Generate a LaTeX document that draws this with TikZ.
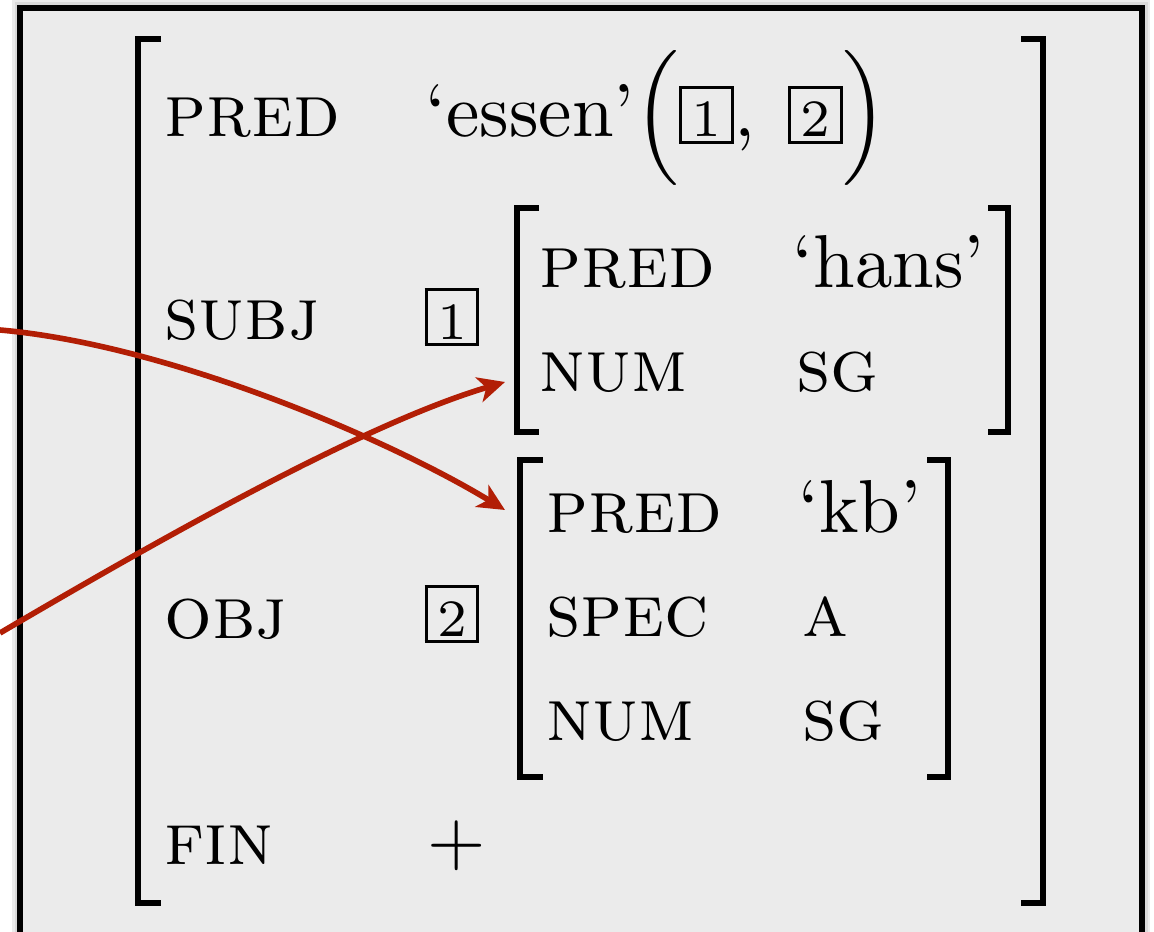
\documentclass[tikz,border=0pt]{standalone}
\usepackage{tikz}
\usetikzlibrary{arrows.meta}
\definecolor{linkred}{RGB}{178,30,5}
\definecolor{boxgrey}{RGB}{235,235,235}
\newcommand{\tagnum}[1]{{\setlength{\fboxsep}{0pt}\setlength{\fboxrule}{.4pt}%
 \fbox{\vrule width0pt height6.4pt depth.5pt\makebox[6.5pt]{\scriptsize #1}}}}

\begin{document}
\begin{tikzpicture}[x=.13333pt,y=-.13333pt,>={Stealth[length=3.6pt,width=3.4pt,inset=1pt]},
 feat/.style={anchor=base west,inner sep=0pt,font=\scshape},
 val/.style={anchor=base west,inner sep=0pt},
 tagn/.style={inner sep=0pt},
 brk/.style={line width=.75pt},
 link/.style={->,line width=.75pt,linkred}]
 \useasboundingbox (0,0) rectangle (1154,932);
 % soft shadow and grey box
 \foreach \w in {16,11,6}
  \draw[black,opacity=.08,line width=\w*.13333pt] (20,8) rectangle (1142,960);
 \draw[line width=.8pt,fill=boxgrey] (20,8) rectangle (1142,960);
 % outer matrix
 \node[feat] (pred) at (163,137) {pred};
 \node[val] (essen) at (424,137) {‘essen’$\Big($\tagnum{1},\hspace{4.4pt}\tagnum{2}$\Big)$};
 \node[feat] (subj) at (163,340) {subj};
 \node[tagn] (t1) at (452,317) {\tagnum{1}};
 \node[feat] (obj) at (163,638) {obj};
 \node[tagn] (t2) at (452,614) {\tagnum{2}};
 \node[feat] (fin) at (163,865) {fin};
 \node[val] (plus) at (426,865) {$+$};
 \draw[brk] (161,39) -- (138,39) -- (138,903) -- (161,903);
 \draw[brk] (1021,39) -- (1043,39) -- (1043,903) -- (1021,903);
 % subj matrix
 \node[feat] (spred) at (538,288) {pred};
 \node[val] (hans) at (791,288) {‘hans’};
 \node[feat] (snum) at (538,392) {num};
 \node[feat] (ssg) at (795,392) {sg};
 \draw[brk] (539,208) -- (517,208) -- (517,432) -- (539,432);
 \draw[brk] (988,208) -- (1008,208) -- (1008,432) -- (988,432);
 % obj matrix
 \node[feat] (opred) at (545,533) {pred};
 \node[val] (kb) at (797,533) {‘kb’};
 \node[feat] (ospec) at (545,637) {spec};
 \node[feat] (oa) at (801,637) {a};
 \node[feat] (onum) at (545,740) {num};
 \node[feat] (osg) at (801,740) {sg};
 \draw[brk] (543,460) -- (520,460) -- (520,777) -- (543,777);
 \draw[brk] (927,460) -- (948,460) -- (948,777) -- (927,777);
 % links
 \coordinate (srcA) at (0,330);
 \coordinate (srcB) at (0,633);
 \coordinate (objin) at (505,510);
 \coordinate (subjin) at (505,382);
 \draw[link] (srcA) .. controls (170,345) and (390,440) .. (objin);
 \draw[link] (srcB) .. controls (150,545) and (360,425) .. (subjin);
\end{tikzpicture}
\end{document}
